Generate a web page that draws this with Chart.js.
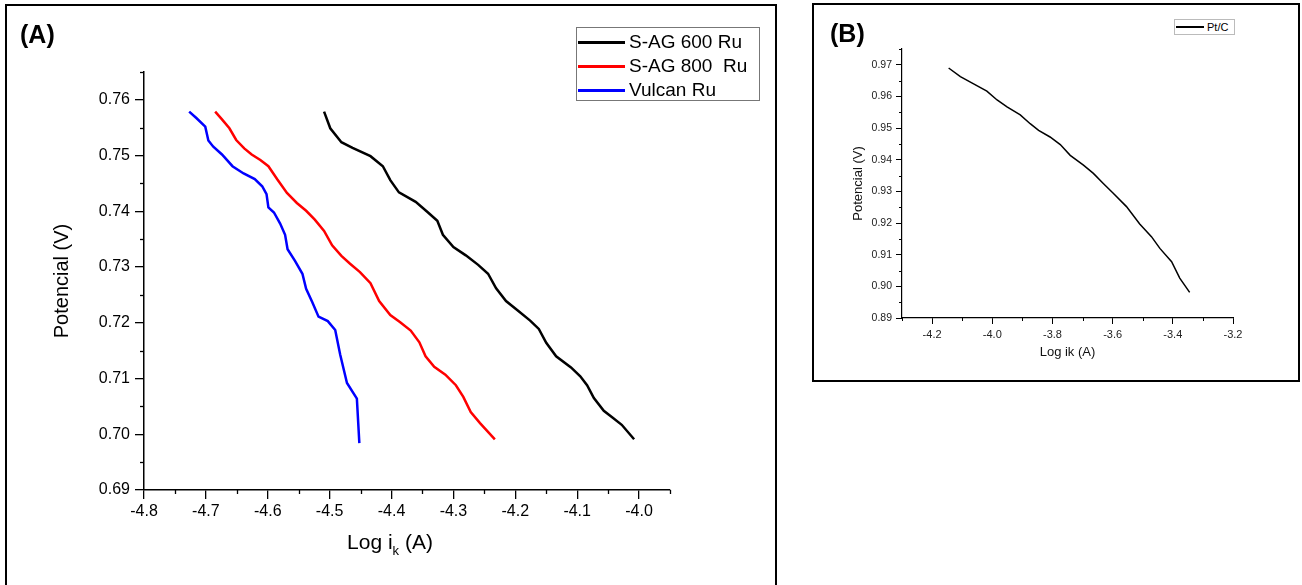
<!DOCTYPE html>
<html>
<head>
<meta charset="utf-8">
<title>Tafel</title>
<script src="https://cdn.jsdelivr.net/npm/chart.js@4"></script>
<style>
  body { margin: 0; background: #fff; font-family: "Liberation Sans", Arial, sans-serif; }
  .frame { position: absolute; border: 2px solid #000; box-sizing: border-box; }
  #frameA { left: 5px; top: 4px; width: 772px; height: 620px; }
  #frameB { left: 812px; top: 3px; width: 488px; height: 379px; }
  canvas { position: absolute; }
  #chartA { left: 0; top: 0; }
  #chartB { left: 810px; top: 0; }
  .tag { position: absolute; font-weight: bold; font-size: 25px; line-height: 1; }
  .legend { position: absolute; border: 1px solid #777; background: #fff; box-sizing: border-box; }
  .legend .row { position: absolute; left: 0; white-space: nowrap; }
  .legend .swatch { position: absolute; left: 1px; }
  .xtitle { position: absolute; text-align: center; }
  .xtitle sub { font-size: 13px; vertical-align: -6px; }
</style>
</head>
<body>
<div class="frame" id="frameA"></div>
<div class="frame" id="frameB"></div>
<canvas id="chartA" width="780" height="585"></canvas>
<canvas id="chartB" width="492" height="385"></canvas>
<div class="tag" style="left:20px; top:22px;">(A)</div>
<div class="tag" style="left:830px; top:21px;">(B)</div>
<div class="xtitle" style="left:300px; top:530px; width:180px; font-size:21px;">Log i<sub>k</sub> (A)</div>
<div class="legend" id="legendA" style="left:576px; top:27px; width:184px; height:74px;"></div>
<div class="legend" id="legendB" style="left:1174px; top:19px; width:61px; height:16px; border-color:#bbb;"></div>

<script>
// Panel A: Tafel data, log of kinetic current vs potential
var sag600Log = [-4.509, -4.499, -4.481, -4.463, -4.434, -4.414, -4.402, -4.388, -4.361, -4.341, -4.326, -4.317, -4.300, -4.280, -4.260, -4.244, -4.231, -4.215, -4.195, -4.176, -4.162, -4.150, -4.134, -4.110, -4.095, -4.084, -4.073, -4.057, -4.043, -4.028, -4.008];
var sag600Pot = [0.7579, 0.7549, 0.7524, 0.7514, 0.7499, 0.7481, 0.7456, 0.7434, 0.7417, 0.7398, 0.7383, 0.7358, 0.7336, 0.7321, 0.7304, 0.7288, 0.7262, 0.7239, 0.7221, 0.7204, 0.7189, 0.7164, 0.7140, 0.7120, 0.7104, 0.7088, 0.7065, 0.7042, 0.7030, 0.7017, 0.6991];

var sag800Log = [-4.685, -4.674, -4.662, -4.651, -4.638, -4.626, -4.612, -4.599, -4.585, -4.569, -4.553, -4.538, -4.524, -4.509, -4.496, -4.481, -4.467, -4.451, -4.434, -4.420, -4.402, -4.386, -4.369, -4.355, -4.345, -4.331, -4.313, -4.296, -4.284, -4.272, -4.257, -4.233];
var sag800Pot = [0.7579, 0.7565, 0.7549, 0.7528, 0.7513, 0.7502, 0.7492, 0.7481, 0.7458, 0.7433, 0.7415, 0.7401, 0.7385, 0.7365, 0.7339, 0.7320, 0.7306, 0.7291, 0.7271, 0.7239, 0.7214, 0.7201, 0.7186, 0.7165, 0.7140, 0.7121, 0.7107, 0.7088, 0.7067, 0.7040, 0.7020, 0.6991];

var vulcanLog = [-4.727, -4.715, -4.701, -4.696, -4.688, -4.674, -4.657, -4.639, -4.621, -4.609, -4.602, -4.599, -4.590, -4.580, -4.572, -4.568, -4.556, -4.544, -4.538, -4.528, -4.518, -4.503, -4.491, -4.483, -4.472, -4.456, -4.452];
var vulcanPot = [0.7579, 0.7567, 0.7552, 0.7527, 0.7516, 0.7502, 0.7481, 0.7468, 0.7458, 0.7445, 0.7431, 0.7407, 0.7398, 0.7378, 0.7358, 0.7332, 0.7311, 0.7288, 0.7261, 0.7237, 0.7211, 0.7203, 0.7187, 0.7143, 0.7092, 0.7064, 0.6984];

var seriesA = ["S-AG 600 Ru", "S-AG 800  Ru", "Vulcan Ru"];
var colorsA = ["#000000", "#ff0000", "#0000ff"];
var xTicksA = [-4.8, -4.7, -4.6, -4.5, -4.4, -4.3, -4.2, -4.1, -4.0];
var yTicksA = [0.69, 0.70, 0.71, 0.72, 0.73, 0.74, 0.75, 0.76];

// Panel B: Pt/C reference
var ptcLog = [-4.145, -4.106, -4.062, -4.018, -3.984, -3.951, -3.907, -3.874, -3.846, -3.808, -3.774, -3.741, -3.697, -3.664, -3.631, -3.598, -3.554, -3.510, -3.471, -3.443, -3.404, -3.377, -3.344];
var ptcPot = [0.9690, 0.9663, 0.9640, 0.9617, 0.9589, 0.9567, 0.9542, 0.9514, 0.9493, 0.9472, 0.9448, 0.9414, 0.9383, 0.9357, 0.9325, 0.9294, 0.9252, 0.9197, 0.9157, 0.9120, 0.9078, 0.9026, 0.8981];
var xTicksB = [-4.2, -4.0, -3.8, -3.6, -3.4, -3.2];
var yTicksB = [0.89, 0.90, 0.91, 0.92, 0.93, 0.94, 0.95, 0.96, 0.97];

function toPoints(xs, ys) {
  return xs.map(function (x, i) { return { x: x, y: ys[i] }; });
}

// short ticks halfway between the labelled ones
var minorTicks = {
  id: "minorTicks",
  afterDraw: function (chart, args, opts) {
    var ctx = chart.ctx;
    ["x", "y"].forEach(function (id) {
      var s = chart.scales[id];
      var vals = s.ticks.map(function (t) { return t.value; });
      var half = (vals[1] - vals[0]) / 2;
      var minors = vals.map(function (v) { return v + half; });
      minors.unshift(vals[0] - half);
      ctx.save();
      ctx.strokeStyle = opts.color;
      ctx.lineWidth = opts.width;
      minors.forEach(function (v) {
        if (v < s.min - 1e-9 || v > s.max + 1e-9) return;
        var p = Math.round(s.getPixelForValue(v)) + 0.5;
        ctx.beginPath();
        if (id === "x") { ctx.moveTo(p, s.top); ctx.lineTo(p, s.top + opts.length); }
        else { ctx.moveTo(s.right, p); ctx.lineTo(s.right - opts.length, p); }
        ctx.stroke();
      });
      ctx.restore();
    });
  }
};

function axis(min, max, tickVals, digits, font, color, tickLen, fit) {
  return {
    type: "linear",
    min: min,
    max: max,
    afterFit: fit,
    afterBuildTicks: function (s) {
      s.ticks = tickVals.map(function (v) { return { value: v }; });
    },
    ticks: {
      autoSkip: false,
      maxRotation: 0,
      color: color,
      font: font,
      padding: 4,
      callback: function (v) { return v.toFixed(digits); }
    },
    grid: { drawOnChartArea: false, tickLength: tickLen, color: "#000", lineWidth: 1.3 },
    border: { color: "#000", width: 1.5 }
  };
}

// ---- chart A
var xA = axis(-4.8, -3.95, xTicksA, 1, { family: "Liberation Sans", size: 16 }, "#000", 9, function (s) { s.height = 95; });
var yA = axis(0.69, 0.765, yTicksA, 2, { family: "Liberation Sans", size: 16 }, "#000", 9, function (s) { s.width = 144; });
xA.ticks.padding = 3;
yA.ticks.padding = 5;
yA.title = { display: true, text: "Potencial (V)", color: "#000", font: { family: "Liberation Sans", size: 20 }, padding: { top: 50 } };

var chartA = new Chart(document.getElementById("chartA"), {
  type: "scatter",
  data: {
    datasets: [
      { label: seriesA[0], data: toPoints(sag600Log, sag600Pot), borderColor: colorsA[0] },
      { label: seriesA[1], data: toPoints(sag800Log, sag800Pot), borderColor: colorsA[1] },
      { label: seriesA[2], data: toPoints(vulcanLog, vulcanPot), borderColor: colorsA[2] }
    ]
  },
  options: {
    responsive: false,
    animation: false,
    devicePixelRatio: 1,
    layout: { padding: { top: 72, right: 110, left: 0, bottom: 0 } },
    datasets: { scatter: { showLine: true, pointRadius: 0, borderWidth: 2.5, tension: 0 } },
    scales: { x: xA, y: yA },
    plugins: {
      legend: { display: false },
      tooltip: { enabled: false },
      minorTicks: { length: 4, color: "#000", width: 1.3 }
    }
  },
  plugins: [minorTicks]
});

// ---- chart B
var xB = axis(-4.3, -3.2, xTicksB, 1, { family: "Liberation Sans", size: 11 }, "#222", 6, function (s) { s.height = 67; });
var yB = axis(0.89, 0.975, yTicksB, 2, { family: "Liberation Sans", size: 10.5 }, "#222", 6, function (s) { s.width = 92; });
xB.grid.lineWidth = yB.grid.lineWidth = 1;
xB.border.width = yB.border.width = 1.2;
yB.ticks.padding = 4;
xB.title = { display: true, text: "Log ik (A)", color: "#111", font: { family: "Liberation Sans", size: 13 }, padding: { bottom: 25 } };
yB.title = { display: true, text: "Potencial (V)", color: "#111", font: { family: "Liberation Sans", size: 13 }, padding: { top: 41 } };

var chartB = new Chart(document.getElementById("chartB"), {
  type: "scatter",
  data: {
    datasets: [
      { label: "Pt/C", data: toPoints(ptcLog, ptcPot), borderColor: "#000" }
    ]
  },
  options: {
    responsive: false,
    animation: false,
    devicePixelRatio: 1,
    layout: { padding: { top: 49, right: 69, left: 0, bottom: 0 } },
    datasets: { scatter: { showLine: true, pointRadius: 0, borderWidth: 1.5, tension: 0 } },
    scales: { x: xB, y: yB },
    plugins: {
      legend: { display: false },
      tooltip: { enabled: false },
      minorTicks: { length: 3, color: "#000", width: 1 }
    }
  },
  plugins: [minorTicks]
});

// HTML legends built from the chart datasets
function buildLegend(chart, el, rowH, top, lineW, lineH, gap, fontSize) {
  chart.data.datasets.forEach(function (ds, i) {
    var row = document.createElement("div");
    row.className = "row";
    row.style.top = (top + i * rowH) + "px";
    row.style.height = rowH + "px";
    row.style.lineHeight = rowH + "px";
    row.style.fontSize = fontSize + "px";
    row.style.paddingLeft = (lineW + gap) + "px";
    var sw = document.createElement("span");
    sw.className = "swatch";
    sw.style.width = lineW + "px";
    sw.style.height = lineH + "px";
    sw.style.top = ((rowH - lineH) / 2) + "px";
    sw.style.background = ds.borderColor;
    row.appendChild(sw);
    row.appendChild(document.createTextNode(ds.label.replace(/ /g, "\u00a0")));
    el.appendChild(row);
  });
}
buildLegend(chartA, document.getElementById("legendA"), 24, 2, 47, 3, 5, 19);
buildLegend(chartB, document.getElementById("legendB"), 14, 0, 28, 1.5, 4, 11);
</script>
</body>
</html>
